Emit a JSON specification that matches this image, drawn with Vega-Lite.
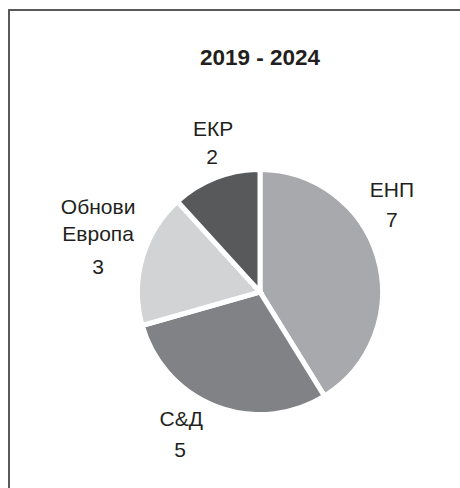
{
  "$schema": "https://vega.github.io/schema/vega-lite/v6.json",
  "width": 502,
  "height": 564,
  "autosize": "none",
  "padding": {"left": 9, "top": 10, "right": 0, "bottom": 0},
  "background": "white",
  "config": {
    "view": {"stroke": null},
    "font": "Liberation Sans"
  },
  "title": {
    "text": "2019 - 2024",
    "fontSize": 22.5,
    "fontWeight": "bold",
    "font": "Liberation Sans",
    "color": "#231f20",
    "offset": -60,
    "anchor": "middle"
  },
  "data": {
    "values": [
      {"party": "ЕНП", "seats": 7, "n": 1},
      {"party": "С&Д", "seats": 5, "n": 2},
      {"party": "Обнови\nЕвропа", "seats": 3, "n": 3},
      {"party": "ЕКР", "seats": 2, "n": 4}
    ]
  },
  "layer": [
    {
      "mark": {"type": "rect", "fill": "transparent", "stroke": "#5a5a5a", "strokeWidth": 1.5},
      "encoding": {}
    },
    {
      "mark": {"type": "arc", "outerRadius": 122.5, "stroke": "white", "strokeWidth": 5},
      "encoding": {
        "theta": {"field": "seats", "type": "quantitative", "stack": true},
        "order": {"field": "n", "type": "quantitative"},
        "color": {
          "field": "party",
          "type": "nominal",
          "scale": {
            "domain": ["ЕНП", "С&Д", "Обнови\nЕвропа", "ЕКР"],
            "range": ["#a7a9ac", "#808285", "#d1d3d4", "#58595b"]
          },
          "legend": null
        }
      }
    },
    {
      "mark": {
        "type": "text",
        "radius": 160,
        "fontSize": 21,
        "lineBreak": "\n",
        "lineHeight": 27,
        "color": "#231f20",
        "dx": {"expr": "datum.party === 'ЕНП' ? -22 : datum.party === 'С&Д' ? -21 : datum.party === 'ЕКР' ? 11 : -8"},
        "dy": {"expr": "datum.party === 'ЕНП' ? -57 : datum.party === 'С&Д' ? -21 : datum.party === 'ЕКР' ? -13 : -40"}
      },
      "encoding": {
        "theta": {"field": "seats", "type": "quantitative", "stack": true},
        "order": {"field": "n", "type": "quantitative"},
        "text": {"field": "party", "type": "nominal"}
      }
    },
    {
      "mark": {
        "type": "text",
        "radius": 160,
        "fontSize": 21,
        "color": "#231f20",
        "dx": {"expr": "datum.party === 'ЕНП' ? -22 : datum.party === 'С&Д' ? -22 : datum.party === 'ЕКР' ? 10 : -8"},
        "dy": {"expr": "datum.party === 'ЕНП' ? -27 : datum.party === 'С&Д' ? 10 : datum.party === 'ЕКР' ? 15 : 20"}
      },
      "encoding": {
        "theta": {"field": "seats", "type": "quantitative", "stack": true},
        "order": {"field": "n", "type": "quantitative"},
        "text": {"field": "seats", "type": "quantitative"}
      }
    }
  ]
}
